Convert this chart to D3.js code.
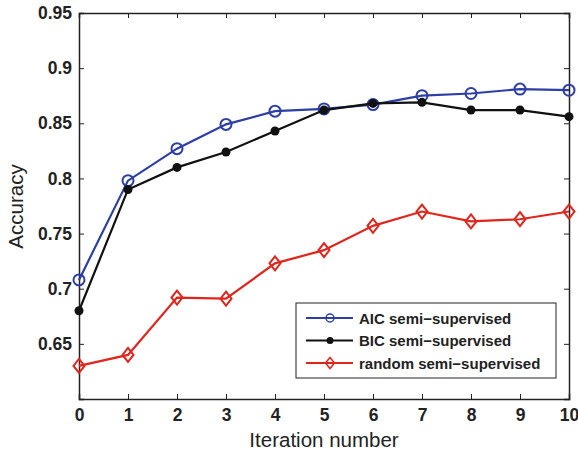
<!DOCTYPE html>
<html>
<head>
<meta charset="utf-8">
<script src="https://cdn.jsdelivr.net/npm/d3@7"></script>
<style>
  body { margin: 0; background: #fff; }
  text { font-family: "Liberation Sans", Arial, Helvetica, sans-serif; }
</style>
</head>
<body>
<div id="chart"></div>
<script>
// data
var iterations = [0, 1, 2, 3, 4, 5, 6, 7, 8, 9, 10];
var aicValues = [0.708, 0.798, 0.827, 0.849, 0.861, 0.863, 0.867, 0.875, 0.877, 0.881, 0.880];
var bicValues = [0.680, 0.790, 0.810, 0.824, 0.843, 0.862, 0.868, 0.869, 0.862, 0.862, 0.856];
var randomValues = [0.630, 0.640, 0.692, 0.691, 0.723, 0.735, 0.757, 0.770, 0.761, 0.763, 0.770];
var seriesNames = ["AIC semi\u2212supervised", "BIC semi\u2212supervised", "random semi\u2212supervised"];
var yTicks = [0.65, 0.7, 0.75, 0.8, 0.85, 0.9, 0.95];
var xTicks = [0, 1, 2, 3, 4, 5, 6, 7, 8, 9, 10];

var margin = {top: 13, right: 9, bottom: 59, left: 79},
    width = 578 - margin.left - margin.right,
    height = 458 - margin.top - margin.bottom;

var svg = d3.select("#chart")
    .append("svg")
    .attr("width", 578)
    .attr("height", 458)
    .append("g")
    .attr("transform", "translate(" + margin.left + "," + margin.top + ")");

var x = d3.scaleLinear().domain([0, 10]).range([0, width]);
var y = d3.scaleLinear().domain([0.6, 0.95]).range([height, 0]);

// axes, ticks pointing inward, box on all sides
svg.append("g")
    .attr("transform", "translate(0," + height + ")")
    .call(d3.axisBottom(x).tickValues(xTicks).tickSize(-5).tickPadding(10).tickFormat(d3.format("d")))
    .call(function(g) {
        g.selectAll("text").style("font-size", "17.5px").style("font-weight", "bold").attr("fill", "#222");
    });
svg.append("g")
    .call(d3.axisTop(x).tickValues(xTicks).tickSize(-5).tickFormat(""));
svg.append("g")
    .call(d3.axisLeft(y).tickValues(yTicks).tickSize(-5).tickPadding(7).tickFormat(function(d) { return d3.format("")(+d.toFixed(2)); }))
    .call(function(g) {
        g.selectAll("text").style("font-size", "17.5px").style("font-weight", "bold").attr("fill", "#222");
    });
svg.append("g")
    .attr("transform", "translate(" + width + ",0)")
    .call(d3.axisRight(y).tickValues(yTicks).tickSize(-5).tickFormat(""));

svg.selectAll(".domain").attr("stroke", "#222").attr("stroke-width", 1.5);
svg.selectAll(".tick line").attr("stroke", "#222");

// axis labels
svg.append("text")
    .attr("text-anchor", "middle")
    .attr("x", width / 2)
    .attr("y", height + 48)
    .style("font-size", "20.5px")
    .attr("fill", "#222")
    .text("Iteration number");

svg.append("text")
    .attr("text-anchor", "middle")
    .attr("transform", "rotate(-90)")
    .attr("x", -193.5)
    .attr("y", -56)
    .style("font-size", "20.5px")
    .attr("fill", "#222")
    .text("Accuracy");

var series = [
    {name: seriesNames[0], values: aicValues, color: "#2d3fa6", marker: "circle"},
    {name: seriesNames[1], values: bicValues, color: "#111111", marker: "dot"},
    {name: seriesNames[2], values: randomValues, color: "#e0261c", marker: "diamond"}
];

var line = d3.line()
    .x(function(d, i) { return x(iterations[i]); })
    .y(function(d) { return y(d); });

function drawMarker(g, type, color, cx, cy) {
    if (type === "circle") {
        g.append("circle").attr("cx", cx).attr("cy", cy).attr("r", 5.5)
            .attr("fill", "none").attr("stroke", color).attr("stroke-width", 2);
    } else if (type === "dot") {
        g.append("circle").attr("cx", cx).attr("cy", cy).attr("r", 4.5)
            .attr("fill", color);
    } else {
        g.append("path")
            .attr("d", "M" + cx + "," + (cy - 7) + "L" + (cx + 5.5) + "," + cy + "L" + cx + "," + (cy + 7) + "L" + (cx - 5.5) + "," + cy + "Z")
            .attr("fill", "none").attr("stroke", color).attr("stroke-width", 2);
    }
}

series.forEach(function(s) {
    svg.append("path")
        .datum(s.values)
        .attr("fill", "none")
        .attr("stroke", s.color)
        .attr("stroke-width", 2.2)
        .attr("d", line);
    var mg = svg.append("g");
    s.values.forEach(function(v, i) {
        drawMarker(mg, s.marker, s.color, x(iterations[i]), y(v));
    });
});

// legend
var legend = svg.append("g")
    .attr("transform", "translate(" + (296 - margin.left) + "," + (303 - margin.top) + ")");
legend.append("rect")
    .attr("width", 260)
    .attr("height", 75)
    .attr("fill", "#fff")
    .attr("stroke", "#222")
    .attr("stroke-width", 1);
series.forEach(function(s, i) {
    var ly = 15 + i * 22.5;
    legend.append("line")
        .attr("x1", 10).attr("x2", 57)
        .attr("y1", ly).attr("y2", ly)
        .attr("stroke", s.color).attr("stroke-width", 2.2);
    var mg = legend.append("g");
    if (s.marker === "circle") {
        mg.append("circle").attr("cx", 34).attr("cy", ly).attr("r", 4)
            .attr("fill", "none").attr("stroke", s.color).attr("stroke-width", 1.5);
    } else if (s.marker === "dot") {
        mg.append("circle").attr("cx", 34).attr("cy", ly).attr("r", 3.5).attr("fill", s.color);
    } else {
        mg.append("path")
            .attr("d", "M34," + (ly - 5.5) + "L38.5," + ly + "L34," + (ly + 5.5) + "L29.5," + ly + "Z")
            .attr("fill", "none").attr("stroke", s.color).attr("stroke-width", 1.5);
    }
    legend.append("text")
        .attr("x", 63)
        .attr("y", ly + 5.5)
        .style("font-size", "15px")
        .style("font-weight", "bold")
        .attr("fill", "#222")
        .text(s.name);
});
</script>
</body>
</html>
